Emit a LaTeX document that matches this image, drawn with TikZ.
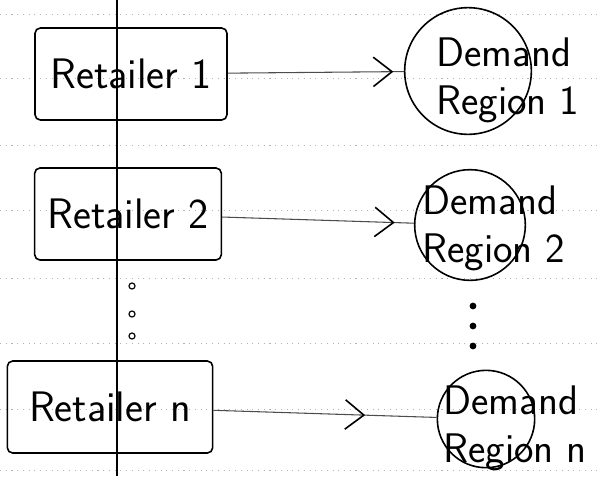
\documentclass[tikz,border=0pt]{standalone}
\usetikzlibrary{arrows.meta,decorations.markings}

\tikzset{
	shop/.style={draw, line width=1.2pt, rounded corners=4pt, minimum height=69pt, inner sep=0pt, font=\sffamily\fontsize{32}{36}\selectfont},
	region/.style={draw, circle, line width=1.2pt, inner sep=0pt},
	regtext/.style={anchor=west, align=left, inner sep=0pt, font=\sffamily\fontsize{31}{36}\selectfont},
	flow/.style={line width=0.8pt, color=black!70, postaction={decorate},
		decoration={markings, mark=at position #1 with {\arrow[line width=1.2pt, black]{Straight Barb[length=14pt,width=22pt]}}}},
	paper/.style={dash pattern=on 0.8pt off 3.5pt, line width=0.6pt, color=black!30},
	gapdot/.style={draw, circle, line width=0.9pt, inner sep=1.6pt},
	fulldot/.style={fill, circle, inner sep=1.8pt}
}

\begin{document}
\begin{tikzpicture}[x=0.75pt, y=-0.75pt]
		%%%%% START %%%%%
		\useasboundingbox (0, 0) rectangle (598, 476);
		
		% ruled paper
		\foreach \y in {14, 78, 145, 210, 278, 343, 409, 470}
			\draw[paper] (0, \y) -- (598, \y);
		\draw[line width=1.3pt] (117, 0) -- (117, 476);
		
		% retailers
		\node[shop, minimum width=144pt] (r1) at (131, 74) {Retailer 1};
		\node[shop, minimum width=140pt] (r2) at (128, 214) {Retailer 2};
		\node[shop, minimum width=154pt] (rn) at (110, 407) {Retailer n};
		
		\node[gapdot] (g1) at (132, 286) {};
		\node[gapdot] (g2) at (132, 314) {};
		\node[gapdot] (g3) at (132, 336) {};
		
		% demand regions
		\node[region, minimum size=95pt] (d1) at (468, 71) {};
		\node[region, minimum size=83pt] (d2) at (470, 225) {};
		\node[region, minimum size=73pt] (dn) at (486, 419) {};
		
		\node[regtext] (t1) at (436, 80) {Demand\\Region 1};
		\node[regtext] (t2) at (422, 228) {Demand\\Region 2};
		\node[regtext] (tn) at (443, 428) {Demand\\Region n};
		
		\node[fulldot] (f1) at (473, 306) {};
		\node[fulldot] (f2) at (473, 326) {};
		\node[fulldot] (f3) at (473, 346) {};
		
		% connectors
		\draw[flow=0.94] (r1) -- (d1);
		\draw[flow=0.9] (r2) -- (d2);
		\draw[flow=0.68] (rn) -- (dn);
		
		%%%%% END %%%%%
	\end{tikzpicture}
\end{document}
